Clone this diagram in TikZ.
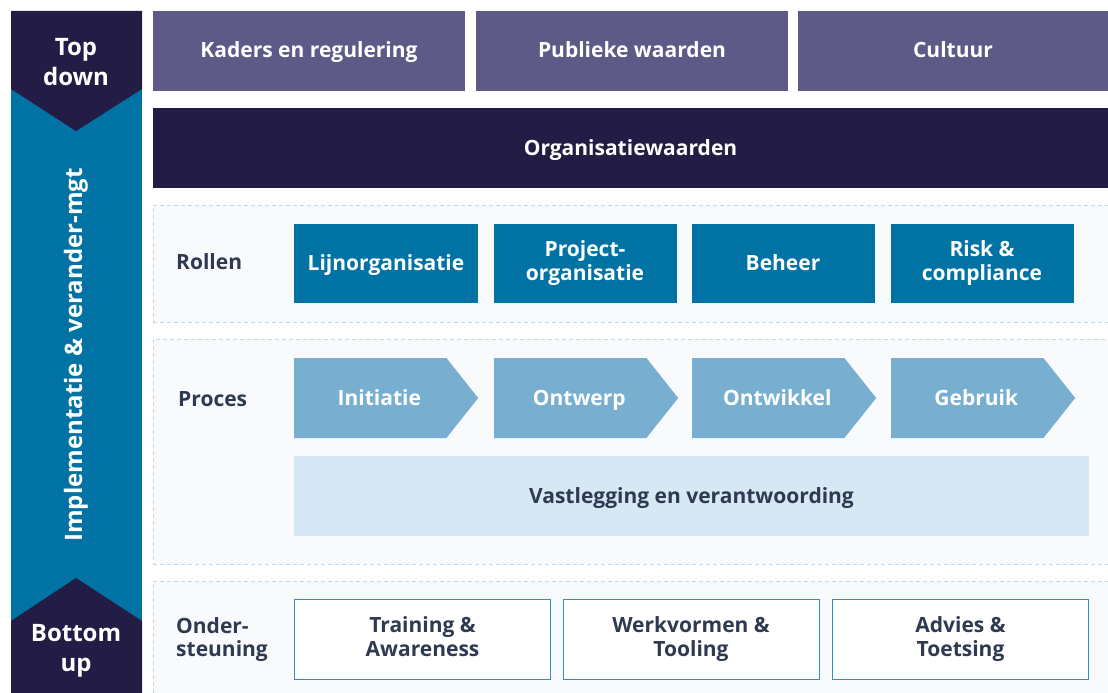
\documentclass[tikz,border=0pt]{standalone}
\usepackage{fontspec}
\setmainfont{Open Sans}
\usetikzlibrary{shapes.symbols,positioning}
\definecolor{bmnavy}{RGB}{35,28,69}
\definecolor{bmpurple}{RGB}{94,90,135}
\definecolor{bmteal}{RGB}{0,114,163}
\definecolor{bmsky}{RGB}{120,175,209}
\definecolor{bmpale}{RGB}{214,232,244}
\definecolor{bmbg}{RGB}{248,250,252}
\definecolor{bmdash}{RGB}{188,216,238}
\definecolor{bmframe}{RGB}{46,143,193}
\definecolor{bmink}{RGB}{47,58,82}
% fixed line box, so text sits on the same baseline with or without descenders
\newcommand{\bmstrut}{\rule[-6pt]{0pt}{26pt}}
\tikzstyle{txt} = [font=\bfseries\fontsize{21}{23.5}\selectfont, align=center, inner sep=0pt,
  execute at begin node=\bmstrut, execute at end node=\bmstrut]
\tikzstyle{topbox} = [txt, fill=bmpurple, text=white, minimum width=312, minimum height=80]
\tikzstyle{section} = [fill=bmbg, draw=bmdash, dashed, dash pattern=on 4pt off 3pt, minimum width=962]
\tikzstyle{rolebox} = [txt, fill=bmteal, text=white, minimum width=183, minimum height=79]
\tikzstyle{phase} = [txt, signal, signal to=east, signal pointer angle=103, fill=bmsky, text=white,
  minimum width=184, minimum height=80, anchor=west, execute at begin node={\hspace*{18pt}\bmstrut}]
\tikzstyle{supportbox} = [txt, fill=white, draw=bmframe, thick, text=bmink, minimum width=256, minimum height=80]
\tikzstyle{rowlabel} = [txt, text=bmink, anchor=west, align=left]
\tikzstyle{sidelabel} = [font=\bfseries\fontsize{24}{29.5}\selectfont, text=white, align=center, inner sep=0pt]

\begin{document}
\begin{tikzpicture}[x=1pt, y=-1pt]
\useasboundingbox (0,0) rectangle (1108,693);
\clip (0,0) rectangle (1108,693);

% Side bar
\fill[bmteal] (11,88) rectangle (142,625);
\fill[bmnavy] (11,11) -- (142,11) -- (142,89) -- (76,131) -- (11,89) -- cycle;
\fill[bmnavy] (11,700) -- (11,621) -- (76,578) -- (142,621) -- (142,700) -- cycle;
\node[sidelabel] (topdown) at (76,62) {Top\\down};
\node[sidelabel] (bottomup) at (76,651) {Bottom\\up};
\node[sidelabel, rotate=90] (impl) at (76,355) {Implementatie \& verander-mgt};

% Frameworks
\node[topbox] (kaders) at (309,51) {Kaders en regulering};
\node[topbox] (publiek) at (632,51) {Publieke waarden};
\node[topbox, minimum width=310] (cultuur) at (953,51) {Cultuur};
\node[txt, fill=bmnavy, text=white, minimum width=955, minimum height=80] (orgw) at (630.5,148) {Organisatiewaarden};

% Sections
\node[section, minimum height=117] (rollen) at (634,263.5) {};
\node[section, minimum height=225] (proces) at (634,451.5) {};
\node[section, minimum height=124] (onder) at (634,643) {};

% Rollen
\node[rowlabel] (rollenlbl) at (176,262) {Rollen};
\node[rolebox, minimum width=184] (lijn) at (386,263.5) {Lijnorganisatie};
\node[rolebox] (project) at (585,263.5) {Project-\\organisatie};
\node[rolebox] (beheer) at (783,263.5) {Beheer};
\node[rolebox] (risk) at (982,263.5) {Risk \&\\compliance};

% Proces
\node[rowlabel] (proceslbl) at (178,399) {Proces};
\node[phase] (initiatie) at (294,398) {Initiatie};
\node[phase] (ontwerp) at (494,398) {Ontwerp};
\node[phase] (ontwikkel) at (692,398) {Ontwikkel};
\node[phase] (gebruik) at (891,398) {Gebruik};
\node[txt, fill=bmpale, text=bmink, minimum width=795, minimum height=80] (vastlegging) at (691.5,496) {Vastlegging en verantwoording};

% Ondersteuning
\node[rowlabel] (onderlbl) at (176,640) {Onder-\\steuning};
\node[supportbox] (training) at (422.5,639.5) {Training \&\\Awareness};
\node[supportbox] (werkvormen) at (691,639.5) {Werkvormen \&\\Tooling};
\node[supportbox] (advies) at (960.5,639.5) {Advies \&\\Toetsing};
\end{tikzpicture}
\end{document}
